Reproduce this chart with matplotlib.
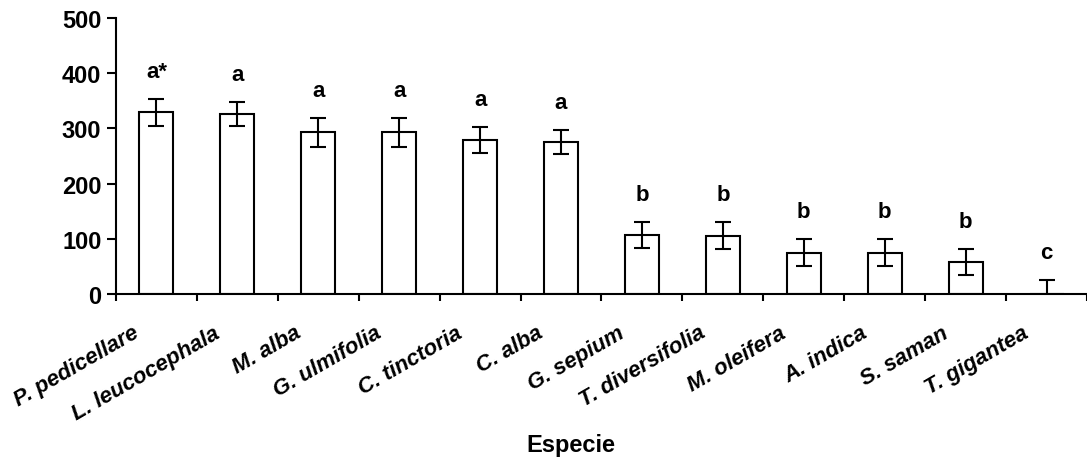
import numpy as np
import matplotlib
matplotlib.use("Agg")
import matplotlib.pyplot as plt
import matplotlib.transforms as mtransforms

plt.rcParams['font.family'] = ['Liberation Sans', 'DejaVu Sans']

# data
especies = ["P. pedicellare", "L. leucocephala", "M. alba", "G. ulmifolia",
            "C. tinctoria", "C. alba", "G. sepium", "T. diversifolia",
            "M. oleifera", "A. indica", "S. saman", "T. gigantea"]
medias = [329, 326, 293, 293, 279, 275, 107, 106, 75, 75, 58, 0]
errores = [24, 22, 26, 26, 23, 22, 23, 24, 25, 25, 24, 25]
letras = ["a*", "a", "a", "a", "a", "a", "b", "b", "b", "b", "b", "c"]
yticks = [0, 100, 200, 300, 400, 500]

fig = plt.figure(figsize=(10.87, 4.64), dpi=100)
ax = fig.add_axes([0.1067, 0.364, 0.8933, 0.595])

x = np.arange(len(especies))
ax.bar(x, medias, width=0.42, color="white", edgecolor="black", linewidth=1.5, zorder=2)
ax.errorbar(x, medias, yerr=errores, fmt="none", ecolor="black",
            elinewidth=1.5, capsize=5.8, capthick=1.5, zorder=3)

# significance letters above the error bars
for xi, m, e, l in zip(x, medias, errores, letras):
    ax.annotate(l, (xi, m + e), xytext=(0, 16), textcoords="offset points",
                ha="center", va="baseline", fontsize=16, fontweight="bold")

ax.set_xlim(-0.5, 11.41)
ax.set_ylim(0, 500)
ax.set_yticks(yticks)
ax.set_yticklabels([str(v) for v in yticks], fontsize=17, fontweight="bold")

# category labels centred on bars, tick marks between bars
ax.set_xticks(x)
ax.set_xticklabels(especies, rotation=30, ha="right", fontsize=16,
                   fontweight="bold", fontstyle="italic")
ax.tick_params(axis="x", which="major", length=0, pad=20)
ax.set_xticks(np.arange(-0.5, 12, 1), minor=True)
ax.tick_params(axis="x", which="minor", length=5, width=1.5, direction="out")
ax.tick_params(axis="y", length=6.5, width=1.5, direction="out", pad=4)

offset = mtransforms.ScaledTranslation(-14 / 100, 0, fig.dpi_scale_trans)
for lab in ax.get_xticklabels():
    lab.set_transform(lab.get_transform() + offset)

for s in ["top", "right"]:
    ax.spines[s].set_visible(False)
for s in ["left", "bottom"]:
    ax.spines[s].set_linewidth(1.5)

fig.text(0.525, 0.039, "Especie", ha="center", va="center",
         fontsize=17, fontweight="bold")

fig.savefig("out.png", dpi=100)
